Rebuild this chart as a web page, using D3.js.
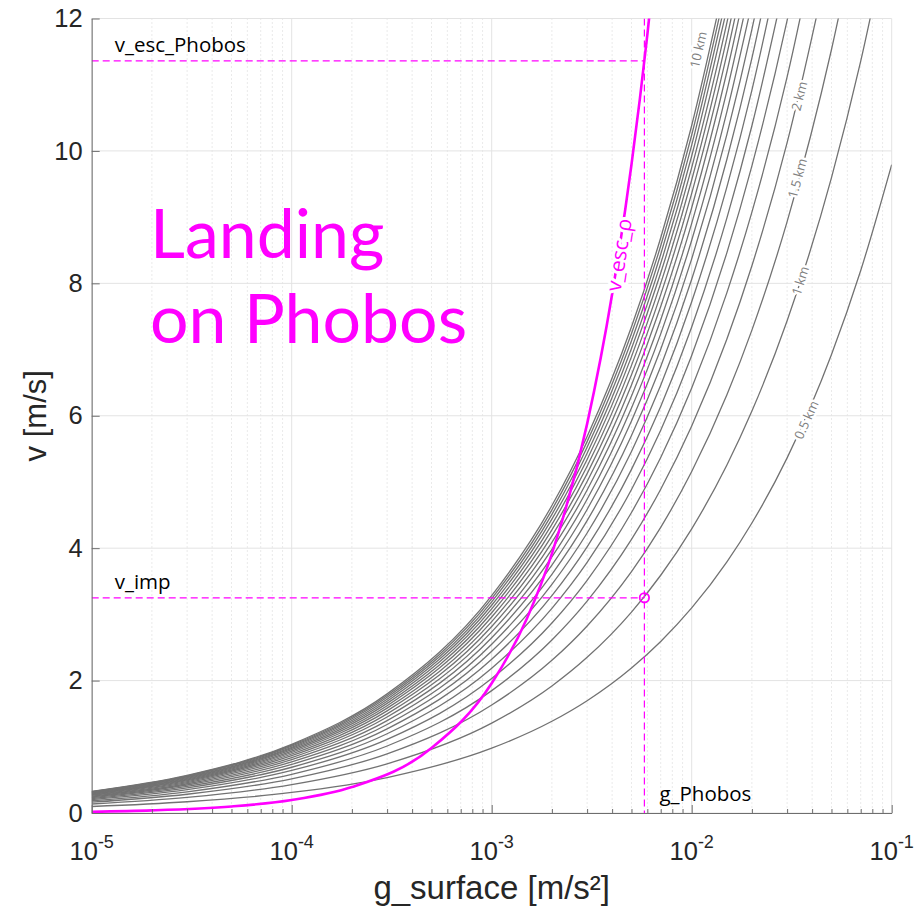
<!DOCTYPE html>
<html><head><meta charset="utf-8">
<script src="https://cdn.jsdelivr.net/npm/d3@7"></script>
<style>body{margin:0;background:#fff;} svg{display:block}</style>
</head><body>
<svg id="chart" width="918" height="911"></svg>
<script>
// ---------------- data ----------------
const gSamples = [1e-5, 3e-5, 1e-4, 3e-4, 1e-3, 2e-3, 3e-3, 5e-3, 7e-3, 1e-2, 1.5e-2, 2e-2, 3e-2, 5e-2, 7e-2, 1e-1];
const heightLevelsKm = [0.5, 1, 1.5, 2, 2.5, 3, 3.5, 4, 4.5, 5, 5.5, 6, 6.5, 7, 7.5, 8, 8.5, 9, 9.5, 10];
const curveSpeeds = [
  [0.098,0.170,0.310,0.536,0.979,1.385,1.696,2.190,2.591,3.097,3.793,4.380,5.364,6.925,8.194,9.794],
  [0.136,0.235,0.429,0.743,1.357,1.919,2.351,3.035,3.591,4.292,5.256,6.070,7.434,9.597,11.356,13.573],
  [0.163,0.283,0.516,0.893,1.631,2.306,2.825,3.647,4.315,5.157,6.316,7.293,8.932,11.532,13.644],
  [0.185,0.320,0.585,1.012,1.848,2.614,3.201,4.133,4.890,5.845,7.158,8.266,10.124,13.070],
  [0.203,0.352,0.642,1.112,2.030,2.870,3.515,4.538,5.370,6.418,7.860,9.076,11.117,14.351],
  [0.219,0.379,0.691,1.197,2.186,3.091,3.785,4.887,5.782,6.911,8.464,9.774,11.971,15.454],
  [0.232,0.402,0.734,1.271,2.321,3.283,4.020,5.190,6.141,7.340,8.989,10.380,12.714],
  [0.244,0.423,0.772,1.337,2.442,3.453,4.229,5.460,6.460,7.721,9.456,10.919,13.374],
  [0.255,0.442,0.806,1.396,2.549,3.605,4.416,5.701,6.745,8.062,9.874,11.401,13.964],
  [0.265,0.458,0.837,1.450,2.647,3.743,4.584,5.919,7.003,8.370,10.251,11.837,14.498],
  [0.274,0.474,0.865,1.498,2.735,3.868,4.738,6.117,7.237,8.650,10.594,12.233],
  [0.282,0.488,0.891,1.543,2.816,3.983,4.878,6.298,7.451,8.906,10.907,12.595],
  [0.289,0.501,0.914,1.584,2.891,4.088,5.007,6.464,7.649,9.142,11.196,12.929],
  [0.296,0.513,0.936,1.621,2.960,4.185,5.126,6.618,7.830,9.359,11.462,13.236],
  [0.302,0.524,0.956,1.656,3.024,4.276,5.237,6.761,7.999,9.561,11.709,13.521],
  [0.308,0.534,0.975,1.688,3.083,4.359,5.339,6.893,8.156,9.748,11.938,13.786],
  [0.314,0.544,0.992,1.719,3.138,4.438,5.435,7.017,8.302,9.923,12.153],
  [0.319,0.553,1.009,1.747,3.190,4.511,5.525,7.133,8.439,10.087,12.354],
  [0.324,0.561,1.024,1.774,3.238,4.579,5.609,7.241,8.567,10.240,12.541],
  [0.328,0.569,1.038,1.799,3.284,4.644,5.688,7.343,8.688,10.384,12.717]
];
const escG = [1e-5, 2e-5, 5e-5, 1e-4, 2e-4, 5e-4, 1e-3, 1.5e-3, 2e-3, 3e-3, 4e-3, 5e-3, 6e-3, 6.5e-3];
const escV = [0.0196, 0.0392, 0.098, 0.196, 0.392, 0.980, 1.959, 2.939, 3.918, 5.877, 7.836, 9.795, 11.754, 12.734];
const gPhobos = 5.8e-3;
const vEscPhobos = 11.36;
const vImp = 3.25;
const yTicks = [0, 2, 4, 6, 8, 10, 12];
const xTickExponents = [-5, -4, -3, -2, -1];
const contourLabelText = ["0.5 km", "1 km", "1.5 km", "2 km", "10 km"];
const contourLabelG = [0.03728, 0.03478, 0.03361, 0.03439, 0.01075];
const contourLabelV = [5.94, 8.04, 9.59, 10.83, 11.53];
const contourLabelAngle = [-66, -72, -75, -76, -77];

// ---------------- drawing ----------------
const svg = d3.select("#chart");
const L = 91.7, R = 891.7, T = 18.5, B = 813;
const x = d3.scaleLog().domain([1e-5, 1e-1]).range([L, R]);
const y = d3.scaleLinear().domain([0, 12]).range([B, T]);

svg.append("defs").append("clipPath").attr("id", "plotclip")
  .append("rect").attr("x", L).attr("y", T).attr("width", R - L).attr("height", B - T);

// grid
const grid = svg.append("g");
const minorX = [];
xTickExponents.slice(0, -1).forEach(e => { for (let m = 2; m <= 9; m++) minorX.push(m * Math.pow(10, e)); });
grid.selectAll("line.minor").data(minorX).join("line")
  .attr("x1", d => x(d)).attr("x2", d => x(d)).attr("y1", T).attr("y2", B)
  .attr("stroke", "#d4d4d4").attr("stroke-width", 1).attr("stroke-dasharray", "1,3");
grid.selectAll("line.majx").data(xTickExponents.map(e => Math.pow(10, e))).join("line")
  .attr("x1", d => x(d)).attr("x2", d => x(d)).attr("y1", T).attr("y2", B)
  .attr("stroke", "#e3e3e3").attr("stroke-width", 1);
grid.selectAll("line.majy").data(yTicks).join("line")
  .attr("x1", L).attr("x2", R).attr("y1", d => y(d)).attr("y2", d => y(d))
  .attr("stroke", "#e3e3e3").attr("stroke-width", 1);

const plot = svg.append("g").attr("clip-path", "url(#plotclip)");
const line = d3.line().x(d => x(d[0])).y(d => y(d[1])).curve(d3.curveMonotoneX);

// contour curves
plot.selectAll("path.h").data(curveSpeeds).join("path")
  .attr("d", row => line(row.map((v, i) => [gSamples[i], v])))
  .attr("fill", "none").attr("stroke", "#727272").attr("stroke-width", 1.3);

// dashed reference lines
const dash = "7,4";
plot.append("line").attr("x1", x(1e-5)).attr("x2", x(gPhobos)).attr("y1", y(vEscPhobos)).attr("y2", y(vEscPhobos))
  .attr("stroke", "#ff00ff").attr("stroke-width", 1.2).attr("stroke-dasharray", dash);
plot.append("line").attr("x1", x(1e-5)).attr("x2", x(gPhobos)).attr("y1", y(vImp)).attr("y2", y(vImp))
  .attr("stroke", "#ff00ff").attr("stroke-width", 1.2).attr("stroke-dasharray", dash);
plot.append("line").attr("x1", x(gPhobos)).attr("x2", x(gPhobos)).attr("y1", y(12)).attr("y2", y(0))
  .attr("stroke", "#ff00ff").attr("stroke-width", 1.2).attr("stroke-dasharray", dash);

// escape velocity curve
plot.append("path").attr("d", line(escG.map((g, i) => [g, escV[i]])))
  .attr("fill", "none").attr("stroke", "#ff00ff").attr("stroke-width", 2.6);

// impact marker
plot.append("circle").attr("cx", x(gPhobos)).attr("cy", y(vImp)).attr("r", 4.7)
  .attr("fill", "none").attr("stroke", "#ff00ff").attr("stroke-width", 1.8);

// contour labels
const lab = svg.append("g");
contourLabelText.forEach((t, i) => {
  lab.append("text")
    .attr("transform", `translate(${x(contourLabelG[i])},${y(contourLabelV[i])}) rotate(${contourLabelAngle[i]})`)
    .attr("text-anchor", "middle").attr("dominant-baseline", "central")
    .attr("font-family", "'Open Sans', Lato, sans-serif").attr("font-size", 13)
    .attr("fill", "#808080").attr("stroke", "#fff").attr("stroke-width", 5)
    .attr("paint-order", "stroke").attr("stroke-linejoin", "round").text(t);
});
// escape velocity label
lab.append("text")
  .attr("transform", `translate(${x(4.3e-3)},${y(8.43)}) rotate(-81)`)
  .attr("text-anchor", "middle").attr("dominant-baseline", "central")
  .attr("font-family", "'Open Sans', Lato, sans-serif").attr("font-size", 21)
  .attr("fill", "#ff00ff").attr("stroke", "#fff").attr("stroke-width", 6)
  .attr("paint-order", "stroke").attr("stroke-linejoin", "round").text("v_esc_ρ");

// annotation texts
const annFont = "'Open Sans', Lato, sans-serif";
svg.append("text").attr("x", x(1e-5) + 23).attr("y", y(vEscPhobos) - 9)
  .attr("font-family", annFont).attr("font-size", 20.5).attr("fill", "#000").text("v_esc_Phobos");
svg.append("text").attr("x", x(1e-5) + 23).attr("y", y(vImp) - 9)
  .attr("font-family", annFont).attr("font-size", 20.5).attr("fill", "#000").text("v_imp");
svg.append("text").attr("x", x(gPhobos) + 15).attr("y", y(0) - 12)
  .attr("font-family", annFont).attr("font-size", 20.5).attr("fill", "#000").text("g_Phobos");

const bigFont = "Lato, 'Open Sans', sans-serif";
svg.append("text").attr("x", 150).attr("y", 258)
  .attr("font-family", bigFont).attr("font-size", 68).attr("fill", "#ff00ff").text("Landing");
svg.append("text").attr("x", 150).attr("y", 343)
  .attr("font-family", bigFont).attr("font-size", 68).attr("fill", "#ff00ff").text("on Phobos");

// axes
const axisColor = "#6e6e6e", labelColor = "#262626", axFont = "'Liberation Sans', Arial, sans-serif";
const yAxis = svg.append("g").attr("transform", `translate(${L},0)`)
  .call(d3.axisLeft(y).tickValues(yTicks).tickSizeInner(-8).tickSizeOuter(0).tickPadding(9).tickFormat(d3.format("d")));
yAxis.select(".domain").attr("stroke", axisColor);
yAxis.selectAll(".tick line").attr("stroke", axisColor);
yAxis.selectAll(".tick text").attr("font-family", axFont).attr("font-size", 25.5).attr("fill", labelColor);

const xAxis = svg.append("g").attr("transform", `translate(0,${B})`)
  .call(d3.axisBottom(x).tickValues(xTickExponents.map(e => Math.pow(10, e))).tickSizeInner(-8).tickSizeOuter(0).tickFormat(""));
xAxis.select(".domain").attr("stroke", axisColor);
xAxis.selectAll(".tick line").attr("stroke", axisColor);
const xMinor = svg.append("g").attr("transform", `translate(0,${B})`)
  .call(d3.axisBottom(x).tickValues(minorX).tickSizeInner(-4).tickSizeOuter(0).tickFormat(""));
xMinor.select(".domain").remove();
xMinor.selectAll(".tick line").attr("stroke", axisColor);

const xl = svg.append("g");
xTickExponents.forEach(e => {
  const t = xl.append("text").attr("x", x(Math.pow(10, e))).attr("y", 860)
    .attr("text-anchor", "middle").attr("font-family", axFont).attr("fill", labelColor);
  t.append("tspan").attr("font-size", 25.5).text("10");
  t.append("tspan").attr("font-size", 18).attr("dy", -12).text("-" + Math.abs(e));
});

svg.append("text").attr("transform", `translate(46,${(T + B) / 2}) rotate(-90)`)
  .attr("text-anchor", "middle").attr("font-family", axFont).attr("font-size", 31).attr("fill", labelColor)
  .text("v [m/s]");
svg.append("text").attr("x", (L + R) / 2).attr("y", 899)
  .attr("text-anchor", "middle").attr("font-family", axFont).attr("font-size", 33).attr("fill", labelColor)
  .text("g_surface [m/s²]");
</script>
</body></html>
